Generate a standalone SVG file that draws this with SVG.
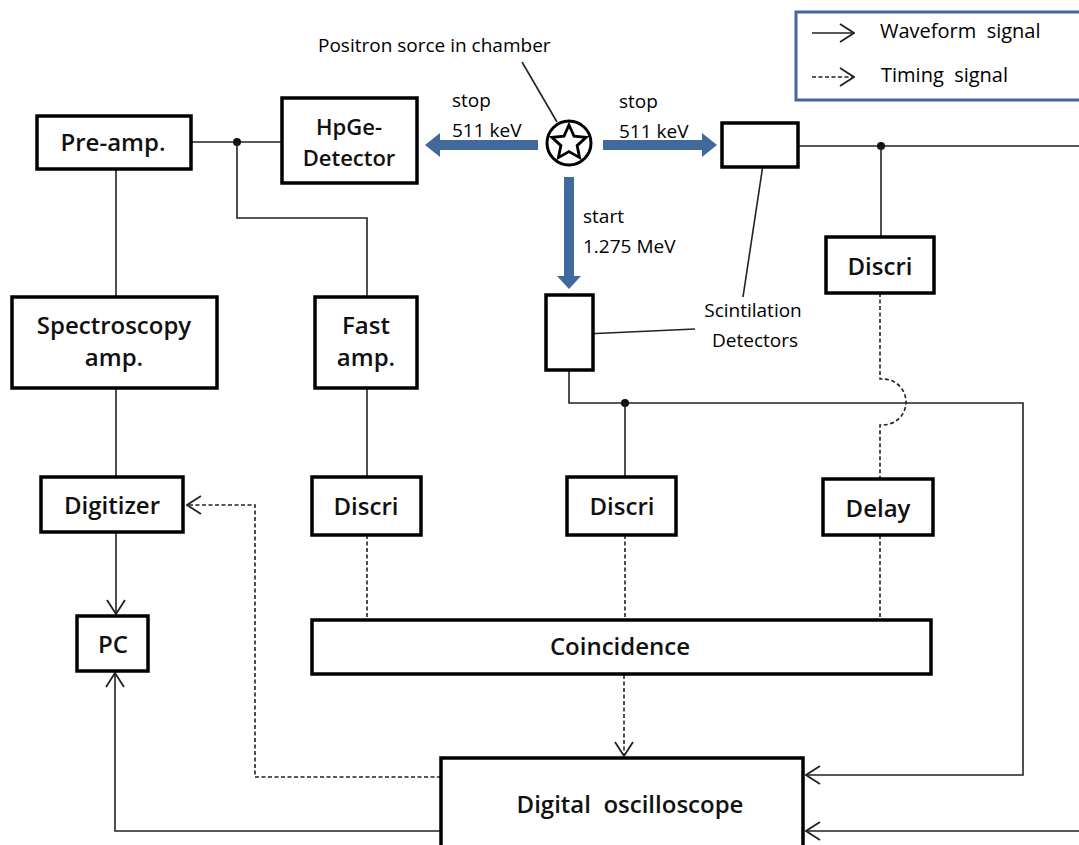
<svg xmlns="http://www.w3.org/2000/svg" width="1079" height="845" viewBox="0 0 1079 845">
<defs>
<style>
.box{fill:#fff;stroke:#000;stroke-width:3.5}
.ln{fill:none;stroke:#222;stroke-width:1.6}
.ds{fill:none;stroke:#222;stroke-width:1.6;stroke-dasharray:4 2.5}
.bl{font-family:"Open Sans","Liberation Sans",sans-serif;font-size:24px;font-weight:600;fill:#111;text-anchor:middle;white-space:pre}
.lb{font-family:"Open Sans","Liberation Sans",sans-serif;font-size:19px;fill:#000;white-space:pre}
.lg{font-family:"Open Sans","Liberation Sans",sans-serif;font-size:20px;fill:#000;white-space:pre}
.blue{fill:#41699c}
</style>
<marker id="ah" viewBox="0 0 16 20" refX="15" refY="10" markerWidth="16" markerHeight="20" markerUnits="userSpaceOnUse" orient="auto">
<path d="M1,1 L15,10 L1,19" fill="none" stroke="#222" stroke-width="1.8"/>
</marker>
</defs>
<rect width="1079" height="845" fill="#fff"/>

<g id="legend">
<rect x="796" y="12" width="290" height="88" fill="#fff" stroke="#41699c" stroke-width="3"/>
<path class="ln" d="M812,33 H854" marker-end="url(#ah)"/>
<path class="ds" d="M812,77 H854" marker-end="url(#ah)"/>
<text class="lg" x="880" y="38">Waveform  signal</text>
<text class="lg" x="881" y="82">Timing  signal</text>
</g>

<g id="connectors">
<path class="ln" d="M191,142 H282"/>
<circle cx="237" cy="142" r="4" fill="#111"/>
<path class="ln" d="M237,142 V218 H367 V297"/>
<path class="ln" d="M116,168 V297"/>
<path class="ln" d="M116,388 V477"/>
<path class="ln" d="M116,532 V614" marker-end="url(#ah)"/>
<path class="ds" d="M441,777 H255 V505 H187" marker-end="url(#ah)"/>
<path class="ln" d="M367,388 V477"/>
<path class="ds" d="M367,535 V620"/>
<path class="ln" d="M441,831 H115 V673" marker-end="url(#ah)"/>
<path class="ln" d="M796,146 H1079"/>
<circle cx="881" cy="146" r="4" fill="#111"/>
<path class="ln" d="M881,146 V237"/>
<path class="ds" d="M880,293 V379 H883 A23,23 0 0 1 883,425 H880 V479"/>
<path class="ds" d="M880,535 V620"/>
<path class="ln" d="M569,370 V403 H1023 V775 H806" marker-end="url(#ah)"/>
<circle cx="625" cy="403" r="4" fill="#111"/>
<path class="ln" d="M625,403 V477"/>
<path class="ds" d="M625,535 V620"/>
<path class="ds" d="M624,675 V756" marker-end="url(#ah)"/>
<path class="ln" d="M1079,831 H806" marker-end="url(#ah)"/>
<path class="ln" d="M522,62 L557,122"/>
<path class="ln" d="M764,158 L743,297"/>
<path class="ln" d="M585,334 L695,329"/>
</g>

<g id="source">
<circle cx="569" cy="143" r="22" fill="#fff" stroke="#000" stroke-width="3"/>
<polygon points="569,125 574,136.1 586.1,137.4 577.1,145.6 579.6,157.6 569,151.5 558.4,157.6 560.9,145.6 551.9,137.4 564,136.1" fill="#fff" stroke="#000" stroke-width="2.8" stroke-linejoin="miter"/>
<text class="lb" x="318" y="52">Positron sorce in chamber</text>
</g>

<g id="gamma-arrows">
<rect class="blue" x="437" y="140" width="101" height="10"/>
<polygon class="blue" points="425,145 440,133 440,157"/>
<rect class="blue" x="603" y="140" width="102" height="10"/>
<polygon class="blue" points="717,145 702,133 702,157"/>
<rect class="blue" x="564" y="177" width="10" height="101"/>
<polygon class="blue" points="569,289 557,276 581,276"/>
<text class="lb" x="452" y="107">stop</text>
<text class="lb" x="452" y="137">511 keV</text>
<text class="lb" x="619" y="108">stop</text>
<text class="lb" x="619" y="138">511 keV</text>
<text class="lb" x="583" y="223">start</text>
<text class="lb" x="583" y="253">1.275 MeV</text>
</g>

<g id="preamp"><rect class="box" x="37" y="116" width="154" height="53"/><text class="bl" x="113" y="151">Pre-amp.</text></g>
<g id="hpge"><rect class="box" x="282" y="98" width="135" height="85"/><text class="bl" x="349" y="135" style="font-size:22px">HpGe-</text><text class="bl" x="349" y="166" style="font-size:22px">Detector</text></g>
<g id="stop-detector"><rect class="box" x="722" y="123" width="76" height="44"/></g>
<g id="start-detector"><rect class="box" x="546" y="295" width="47" height="75"/></g>
<g id="scint-label"><text class="lb" x="753" y="317" text-anchor="middle">Scintilation</text><text class="lb" x="755" y="347" text-anchor="middle">Detectors</text></g>
<g id="spectroscopy"><rect class="box" x="12" y="297" width="205" height="91"/><text class="bl" x="114" y="334">Spectroscopy</text><text class="bl" x="114" y="366">amp.</text></g>
<g id="fastamp"><rect class="box" x="315" y="297" width="102" height="91"/><text class="bl" x="366" y="334">Fast</text><text class="bl" x="366" y="366">amp.</text></g>
<g id="discri-right"><rect class="box" x="826" y="237" width="108" height="56"/><text class="bl" x="880" y="275">Discri</text></g>
<g id="digitizer"><rect class="box" x="41" y="477" width="142" height="55"/><text class="bl" x="112" y="514">Digitizer</text></g>
<g id="discri-left"><rect class="box" x="312" y="477" width="109" height="58"/><text class="bl" x="366" y="515">Discri</text></g>
<g id="discri-mid"><rect class="box" x="567" y="477" width="109" height="58"/><text class="bl" x="622" y="515">Discri</text></g>
<g id="delay"><rect class="box" x="823" y="479" width="110" height="56"/><text class="bl" x="878" y="517">Delay</text></g>
<g id="pc"><rect class="box" x="77" y="616" width="71" height="55"/><text class="bl" x="113" y="653">PC</text></g>
<g id="coincidence"><rect class="box" x="312" y="620" width="619" height="54"/><text class="bl" x="620" y="655">Coincidence</text></g>
<g id="oscilloscope"><rect class="box" x="441" y="758" width="362" height="100"/><text class="bl" x="630" y="813">Digital  oscilloscope</text></g>
</svg>
